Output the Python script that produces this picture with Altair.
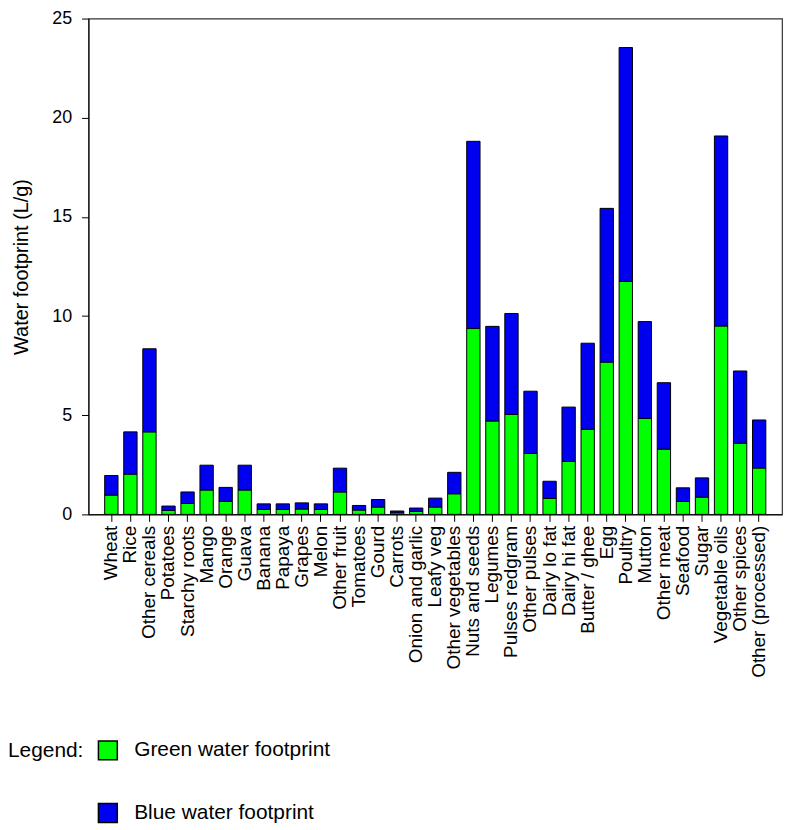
import altair as alt
import pandas as pd

categories = ["Wheat", "Rice", "Other cereals", "Potatoes", "Starchy roots", "Mango", "Orange",
              "Guava", "Banana", "Papaya", "Grapes", "Melon", "Other fruit", "Tomatoes", "Gourd",
              "Carrots", "Onion and garlic", "Leafy veg", "Other vegetables", "Nuts and seeds",
              "Legumes", "Pulses redgram", "Other pulses", "Dairy lo fat", "Dairy hi fat",
              "Butter / ghee", "Egg", "Poultry", "Mutton", "Other meat", "Seafood", "Sugar",
              "Vegetable oils", "Other spices", "Other (processed)"]

green = [0.97, 2.03, 4.16, 0.20, 0.55, 1.23, 0.66, 1.23, 0.25, 0.25, 0.27, 0.25, 1.13, 0.22,
         0.37, 0.08, 0.15, 0.37, 1.04, 9.37, 4.71, 5.04, 3.07, 0.80, 2.67, 4.29, 7.68, 11.75,
         4.84, 3.29, 0.65, 0.87, 9.50, 3.59, 2.34]

blue = [0.99, 2.13, 4.19, 0.22, 0.58, 1.25, 0.70, 1.25, 0.28, 0.28, 0.31, 0.28, 1.20, 0.23,
        0.38, 0.09, 0.17, 0.45, 1.08, 9.44, 4.77, 5.09, 3.14, 0.87, 2.74, 4.34, 7.75, 11.79,
        4.88, 3.35, 0.69, 0.97, 9.58, 3.64, 2.42]

series = ["Green water footprint", "Blue water footprint"]
colors = ["#00ff00", "#0000f0"]

rows = []
for c, g, b in zip(categories, green, blue):
    rows.append({"food": c, "type": series[0], "value": g, "ord": 0})
    rows.append({"food": c, "type": series[1], "value": b, "ord": 1})
df = pd.DataFrame(rows)

FONT = "Liberation Sans"

chart = alt.Chart(df).mark_bar(stroke="black", strokeWidth=1).encode(
    x=alt.X("food:N", sort=categories, title=None,
            scale=alt.Scale(paddingInner=0.3, paddingOuter=0.85),
            axis=alt.Axis(labelAngle=270, labelFontSize=19, labelFont=FONT, labelColor="black",
                          labelPadding=4, tickSize=7, tickColor="black", domainColor="black",
                          labelBaseline="middle", labelAlign="right")),
    y=alt.Y("value:Q", stack="zero", title="Water footprint (L/g)",
            scale=alt.Scale(domain=[0, 25], nice=False),
            axis=alt.Axis(values=[0, 5, 10, 15, 20, 25], grid=False, labelFontSize=18,
                          labelFont=FONT, labelColor="black", tickSize=7, tickColor="black",
                          domainColor="black", titleFontSize=20, titleFont=FONT,
                          titleFontWeight="normal", titleColor="black", titlePadding=20,
                          labelPadding=10)),
    color=alt.Color("type:N", sort=series,
                    scale=alt.Scale(domain=series, range=colors),
                    legend=alt.Legend(title="Legend:", orient="none", legendX=-81, legendY=726,
                                      titleOrient="left", titleAnchor="start",
                                      titleFontSize=21, titleFont=FONT,
                                      titleFontWeight="normal", titleColor="black",
                                      titlePadding=14, labelFontSize=21, labelFont=FONT,
                                      labelColor="black", labelLimit=0, symbolType="square",
                                      symbolSize=361, symbolStrokeColor="black",
                                      symbolStrokeWidth=1.5, symbolOpacity=1, rowPadding=38,
                                      labelOffset=16, padding=0)),
    order=alt.Order("ord:Q"),
).properties(
    width=698, height=499,
    autosize=alt.AutoSizeParams(type="none"),
    padding={"left": 81, "top": 8, "right": 5, "bottom": 312},
).configure_view(stroke="#333333", strokeWidth=1.2)

chart.save("out.html", embed_options={"renderer": "svg", "actions": False})
